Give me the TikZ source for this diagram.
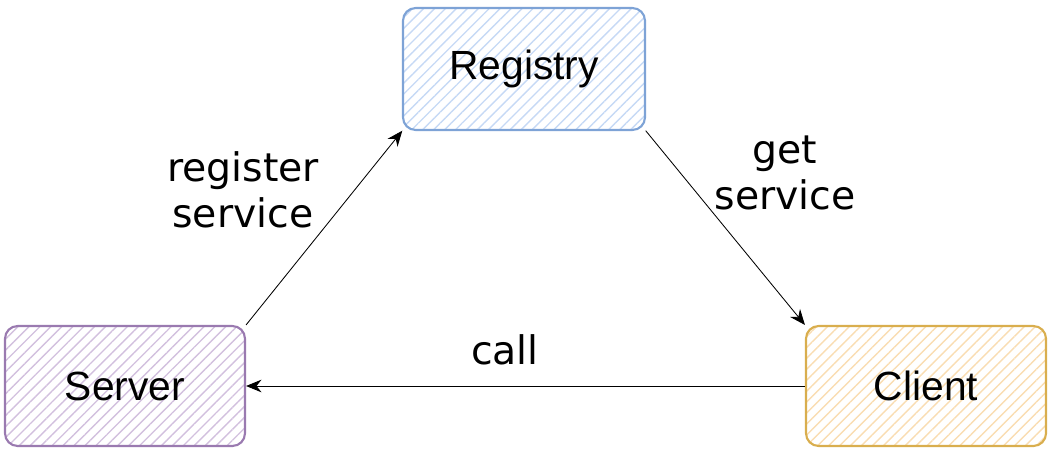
\documentclass[tikz,border=0pt]{standalone}
\usepackage{fontspec}
\setmainfont{Liberation Sans}
\newfontfamily\labelfont{DejaVu Sans}
\usetikzlibrary{arrows.meta,patterns.meta}
\definecolor{regline}{HTML}{7EA3D6}
\definecolor{regfill}{HTML}{C6D9F5}
\definecolor{srvline}{HTML}{9A7AB0}
\definecolor{srvfill}{HTML}{D2C0DE}
\definecolor{cliline}{HTML}{D9AE4E}
\definecolor{clifill}{HTML}{F9DDB2}
\tikzset{
  box/.style={draw, line width=1.5pt, rounded corners=9pt, minimum width=240*0.025cm,
    minimum height=120*0.025cm, inner sep=0pt, font=\fontsize{29}{34}\selectfont},
  hatch/.style={pattern={Lines[angle=45,distance=5.5pt,line width=1pt]}, pattern color=#1},
  lbl/.style={font=\labelfont\fontsize{28}{33}\selectfont, align=center},
  link/.style={-{Stealth[length=11pt,width=9pt]}, line width=0.6pt}
}
\begin{document}
\begin{tikzpicture}[x=0.025cm,y=-0.025cm]
\useasboundingbox (0,0) rectangle (1052,454);
\node [box, draw=regline, hatch=regfill, minimum width=242*0.025cm, minimum height=122*0.025cm] (reg) at (524,69) {Registry};
\node [box, draw=srvline, hatch=srvfill] (srv) at (125,386) {Server};
\node [box, draw=cliline, hatch=clifill] (cli) at (926,386) {Client};
\draw [link] (srv.north east) -- (reg.south west);
\draw [link] (reg.south east) -- (cli.north west);
\draw [link] (cli.west) -- (srv.east);
\node [lbl] (regsvc) at (243,190) {register\\service};
\node [lbl] (getsvc) at (785,173) {get\\service};
\node [lbl] (call) at (505,350) {call};
\end{tikzpicture}
\end{document}
